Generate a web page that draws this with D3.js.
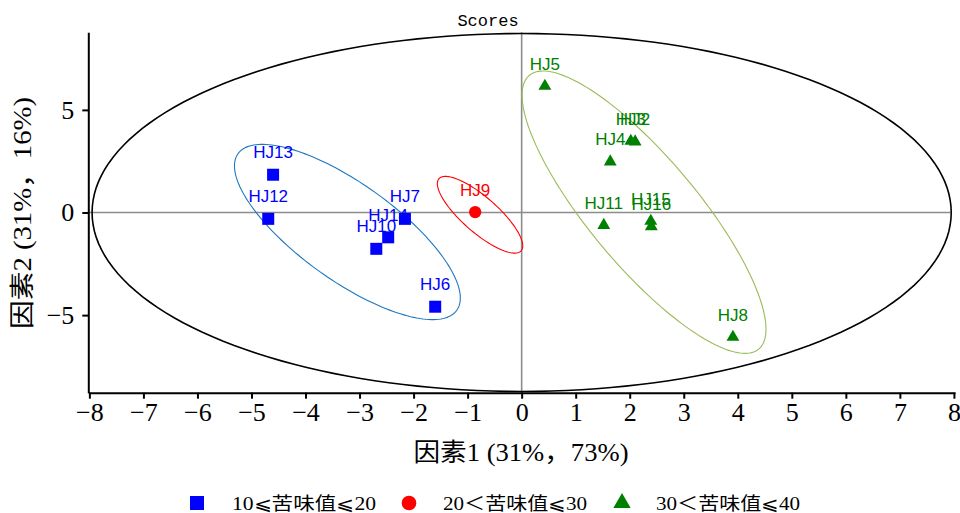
<!DOCTYPE html>
<html>
<head>
<meta charset="utf-8">
<script src="https://cdn.jsdelivr.net/npm/d3@7"></script>
<style>
  html, body { margin: 0; padding: 0; background: #ffffff; }
  svg { display: block; }
</style>
</head>
<body>
<svg id="chart" width="960" height="513"></svg>
<script>
// ---------- data ----------
const sampleNames = ["HJ13","HJ12","HJ7","HJ14","HJ10","HJ6","HJ9","HJ5","HJ3","HJ2","HJ4","HJ11","HJ15","HJ16","HJ8"];
const factor1 = [-4.60,-4.69,-2.16,-2.47,-2.69,-1.60,-0.86, 0.43, 2.02, 2.10, 1.64, 1.52, 2.39, 2.40, 3.91];
const factor2 = [ 1.84,-0.31,-0.31,-1.21,-1.77,-4.59, 0.02, 6.16, 3.48, 3.45, 2.47,-0.62,-0.42,-0.68,-6.07];
const sampleGroup = [0,0,0,0,0,0,1,2,2,2,2,2,2,2,2];

const groupNames = ["10⩽苦味值⩽20", "20＜苦味值⩽30", "30＜苦味值⩽40"];
const groupColors = ["#0000ff", "#ff0000", "#008000"];
const groupShapes = ["square", "circle", "triangle"];

// group confidence ellipses: centre, half extents, correlation
const ellCx   = [-3.225, -0.77, 2.265];
const ellCy   = [-0.95, -0.11, 0.015];
const ellSx   = [2.09, 0.79, 2.257];
const ellSy   = [4.27, 1.87, 6.88];
const ellRho  = [-0.754, -0.81, -0.828];
const ellColors = ["#1f78c1", "#ff0000", "#9bbb59"];

// Hotelling ellipse
const tEllipse = { rx: 7.95, ry: 8.72 };

const xTicks = d3.range(-8, 9, 1);
const yTicks = [-5, 0, 5];
const xTitle = "因素1 (31%，73%)";
const yTitle = "因素2 (31%，16%)";
const chartTitle = "Scores";

// ---------- layout ----------
const svg = d3.select("#chart");
const x = d3.scaleLinear().domain([-8.02, 8.02]).range([88.3, 955]);
const y = d3.scaleLinear().domain([-8.78, 8.78]).range([392.7, 32.3]);

const fmt = d => d < 0 ? "\u2212" + (-d) : String(d);
const serif = "'Liberation Serif', 'Times New Roman', 'DejaVu Serif', 'Noto Sans CJK SC', serif";

// zero lines
svg.append("line")
  .attr("x1", x(0)).attr("x2", x(0))
  .attr("y1", y.range()[1]).attr("y2", y.range()[0])
  .attr("stroke", "#8c8c8c").attr("stroke-width", 1.6);
svg.append("line")
  .attr("x1", x.range()[0]).attr("x2", x(7.93))
  .attr("y1", y(0)).attr("y2", y(0))
  .attr("stroke", "#8c8c8c").attr("stroke-width", 1.6);

// ellipse generator
const ts = d3.range(0, 361, 2).map(a => a * Math.PI / 180);
const line = d3.line().x(d => x(d[0])).y(d => y(d[1])).curve(d3.curveLinearClosed);
function ellipsePts(cx, cy, sx, sy, rho) {
  const s = Math.sqrt(1 - rho * rho);
  return ts.map(t => [cx + sx * Math.cos(t), cy + sy * (rho * Math.cos(t) - s * Math.sin(t))]);
}

svg.append("path")
  .attr("d", line(ellipsePts(0, 0, tEllipse.rx, tEllipse.ry, 0)))
  .attr("fill", "none").attr("stroke", "#000").attr("stroke-width", 1.6);

groupNames.forEach((g, i) => {
  svg.append("path")
    .attr("d", line(ellipsePts(ellCx[i], ellCy[i], ellSx[i], ellSy[i], ellRho[i])))
    .attr("fill", "none").attr("stroke", ellColors[i]).attr("stroke-width", 1.1);
});

// axes
const xAxis = svg.append("g").attr("transform", `translate(0,${y.range()[0]})`)
  .call(d3.axisBottom(x).tickValues(xTicks).tickSize(6).tickSizeOuter(0).tickPadding(4).tickFormat(fmt));
const yAxis = svg.append("g").attr("transform", `translate(${x.range()[0]},0)`)
  .call(d3.axisLeft(y).tickValues(yTicks).tickSize(6).tickSizeOuter(0).tickPadding(8).tickFormat(fmt));
[xAxis, yAxis].forEach(a => {
  a.select(".domain").attr("stroke", "#000").attr("stroke-width", 2);
  a.selectAll(".tick line").attr("stroke", "#000").attr("stroke-width", 2);
  a.selectAll(".tick text").attr("fill", "#000")
    .style("font-family", serif).style("font-size", "26px");
});

// markers
const symType = { square: d3.symbolSquare, circle: d3.symbolCircle, triangle: d3.symbolTriangle };
const symSize = { square: 144, circle: 120, triangle: 72 };
sampleNames.forEach((n, i) => {
  const g = sampleGroup[i];
  const sh = groupShapes[g];
  svg.append("path")
    .attr("d", d3.symbol().type(symType[sh]).size(symSize[sh])())
    .attr("transform", `translate(${x(factor1[i])},${y(factor2[i])})`)
    .attr("fill", groupColors[g]);
});
sampleNames.forEach((n, i) => {
  const g = sampleGroup[i];
  svg.append("text")
    .attr("x", x(factor1[i])).attr("y", y(factor2[i]) - 16.5)
    .attr("text-anchor", "middle")
    .attr("fill", groupColors[g])
    .style("font-family", "'Liberation Sans', Arial, sans-serif")
    .style("font-size", "17px")
    .text(n);
});

// titles
svg.append("text").attr("x", 488).attr("y", 26).attr("text-anchor", "middle")
  .style("font-family", "'Liberation Mono', 'DejaVu Sans Mono', monospace")
  .style("font-size", "17px").attr("fill", "#000").text(chartTitle);

svg.append("text").attr("x", 521).attr("y", 461).attr("text-anchor", "middle")
  .attr("textLength", 215).attr("lengthAdjust", "spacingAndGlyphs")
  .style("font-family", serif).style("font-size", "25px").attr("fill", "#000").text(xTitle);

svg.append("text").attr("transform", "translate(31,213) rotate(-90)").attr("text-anchor", "middle")
  .attr("textLength", 232).attr("lengthAdjust", "spacingAndGlyphs")
  .style("font-family", serif).style("font-size", "25px").attr("fill", "#000").text(yTitle);

// legend
const legSymX = [197, 409, 622];
const legTextX = [232, 443, 656];
const legY = 503;
const legSize = { square: 196, circle: 170, triangle: 130 };
groupNames.forEach((g, i) => {
  const sh = groupShapes[i];
  svg.append("path")
    .attr("d", d3.symbol().type(symType[sh]).size(legSize[sh])())
    .attr("transform", `translate(${legSymX[i]},${legY})`)
    .attr("fill", groupColors[i]);
  svg.append("text").attr("x", legTextX[i]).attr("y", legY + 6.5)
    .attr("textLength", 144).attr("lengthAdjust", "spacingAndGlyphs")
    .style("font-family", serif).style("font-size", "18px").attr("fill", "#000").text(g);
});
</script>
</body>
</html>
